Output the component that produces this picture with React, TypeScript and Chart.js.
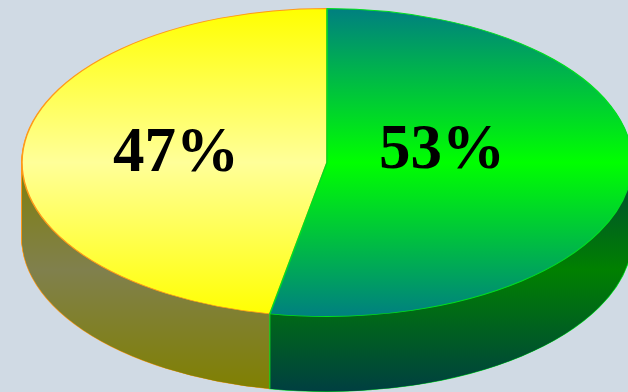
import React, { useEffect, useRef } from "react";
import { Chart, registerables } from "chart.js";

Chart.register(...registerables);

// Slice values, clockwise from twelve o'clock.
const categories = ["Green", "Yellow"];
const shares = [53, 47];
const topStops = [
  ["#008080", "#00ff00", "#008080"],
  ["#ffff00", "#ffff99", "#ffff00"],
];
const wallStops = [
  ["#004040", "#008000", "#004040"],
  ["#808000", "#80804d", "#808000"],
];
const outlineColors = ["#00e020", "#ff9a1a"];

const WIDTH = 628;
const HEIGHT = 392;
const BACKGROUND = "#d0dae4";

// The flattened disc that the round pie is projected onto.
const DISC = { cx: 327, cy: 162.5, rx: 305, ry: 154, depth: 75 };
const TOP_BAND = { from: 9, to: 316 };
const WALL_BAND = { from: 150, to: 390 };
const LABEL_SPOTS = [
  { x: 442, y: 168 },
  { x: 176, y: 171 },
];

function bandGradient(ctx: CanvasRenderingContext2D, y0: number, y1: number, stops: string[]) {
  const g = ctx.createLinearGradient(0, y0, 0, y1);
  stops.forEach((color, i) => g.addColorStop(i / (stops.length - 1), color));
  return g;
}

// Draws a stand-in for an arc that shares its geometry but carries its own style.
function drawArc(ctx: CanvasRenderingContext2D, arc: any, fill: CanvasGradient, border: string, width: number, y: number) {
  const ghost = Object.create(arc);
  ghost.options = { ...arc.options, backgroundColor: fill, borderColor: border, borderWidth: width };
  ghost.y = y;
  arc.draw.call(ghost, ctx);
}

const discPlugin = {
  id: "flattenedDisc",
  beforeDatasetsDraw(chart: any) {
    const ctx: CanvasRenderingContext2D = chart.ctx;
    const arcs = chart.getDatasetMeta(0).data;
    const { x, y, outerRadius: r } = arcs[0];
    const scaleY = DISC.ry / r;
    const localY = (screenY: number) => y + (screenY - DISC.cy) / scaleY;

    ctx.save();
    ctx.translate(DISC.cx, DISC.cy);
    ctx.scale(DISC.rx / r, scaleY);
    ctx.translate(-x, -y);

    const order = [1, 0];
    const walls = wallStops.map((s) => bandGradient(ctx, localY(WALL_BAND.from), localY(WALL_BAND.to), s));
    const tops = topStops.map((s) => bandGradient(ctx, localY(TOP_BAND.from), localY(TOP_BAND.to), s));

    // The side wall: outlined layers give the silhouette, plain fills then cover the inner lines.
    for (const withBorder of [true, false]) {
      for (let d = DISC.depth; d >= 1; d--) {
        for (const i of order) {
          drawArc(ctx, arcs[i], walls[i], outlineColors[i], withBorder ? 1 : 0, y + d / scaleY);
        }
      }
    }
    for (const i of order) drawArc(ctx, arcs[i], tops[i], outlineColors[i], 1, y);
    ctx.restore();

    // Vertical seam where the two walls meet at the front of the disc.
    const a = arcs[0].endAngle;
    const seamX = DISC.cx + DISC.rx * Math.cos(a);
    const seamY = DISC.cy + DISC.ry * Math.sin(a);
    ctx.save();
    ctx.strokeStyle = outlineColors[0];
    ctx.lineWidth = 1;
    ctx.beginPath();
    ctx.moveTo(seamX, seamY);
    ctx.lineTo(seamX, seamY + DISC.depth);
    ctx.stroke();

    // Percentage captions.
    ctx.fillStyle = "#000000";
    ctx.font = 'bold 63px "Liberation Serif"';
    ctx.textAlign = "center";
    ctx.textBaseline = "alphabetic";
    shares.forEach((v, i) => ctx.fillText(`${v}%`, LABEL_SPOTS[i].x, LABEL_SPOTS[i].y));
    ctx.restore();
    return false;
  },
};

export default function App() {
  const ref = useRef<HTMLCanvasElement>(null);

  useEffect(() => {
    document.body.style.margin = "0";
    const chart = new Chart(ref.current!, {
      type: "pie",
      data: {
        labels: categories,
        datasets: [{ data: shares, backgroundColor: outlineColors, borderWidth: 0 }],
      },
      options: {
        responsive: false,
        animation: false,
        rotation: 0,
        plugins: { legend: { display: false }, tooltip: { enabled: false } },
      },
      plugins: [discPlugin],
    });
    return () => chart.destroy();
  }, []);

  return (
    <div style={{ width: WIDTH, height: HEIGHT, background: BACKGROUND, overflow: "hidden" }}>
      <canvas ref={ref} width={WIDTH} height={HEIGHT} style={{ display: "block" }} />
    </div>
  );
}
